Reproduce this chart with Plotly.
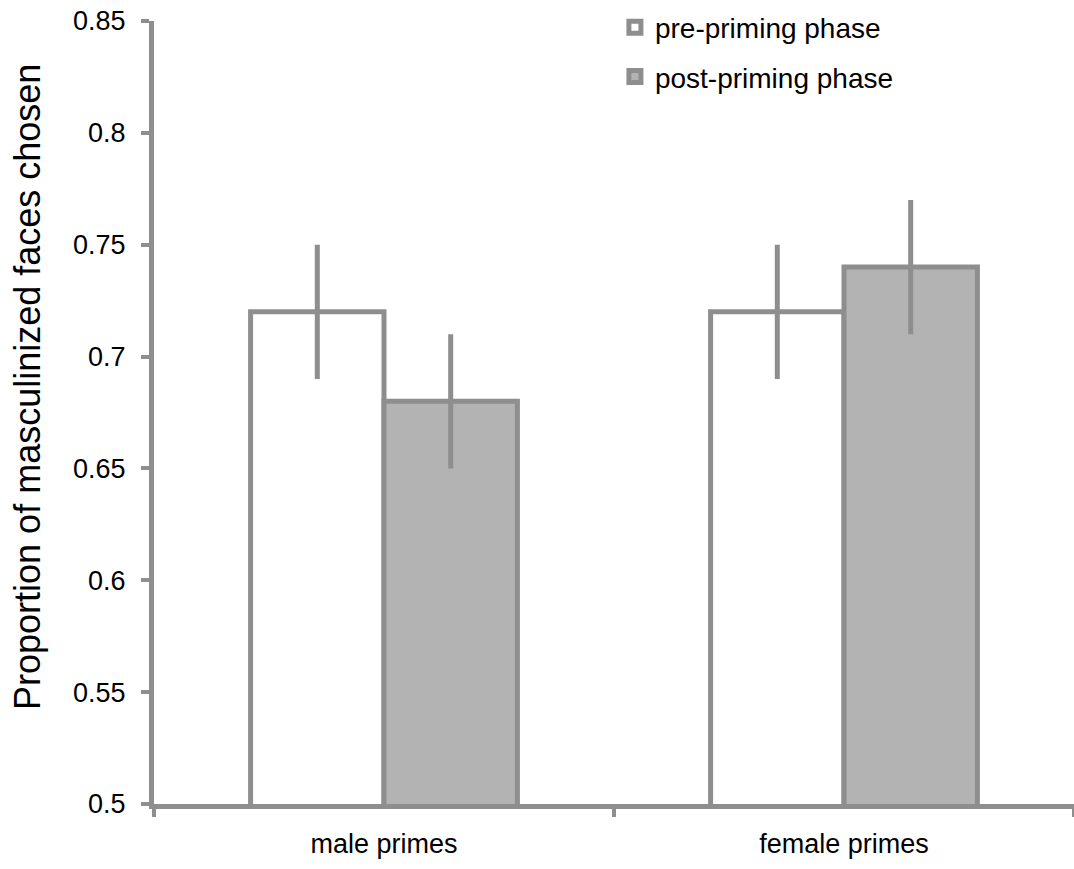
import plotly.graph_objects as go

categories = ["male primes", "female primes"]
pre_values = [0.72, 0.72]
post_values = [0.68, 0.74]
pre_err = [0.03, 0.03]
post_err = [0.03, 0.03]
y_ticks = [0.5, 0.55, 0.6, 0.65, 0.7, 0.75, 0.8, 0.85]
y_ticklabels = ["0.5", "0.55", "0.6", "0.65", "0.7", "0.75", "0.8", "0.85"]
y_title = "Proportion of masculinized faces chosen"

LINE = "#8e8e8e"
FONT = "Arial, Liberation Sans, sans-serif"

fig = go.Figure()
fig.add_trace(go.Bar(
    x=categories, y=pre_values, name="pre-priming phase",
    marker=dict(color="white", line=dict(color=LINE, width=5)),
    error_y=dict(type="data", array=pre_err, color=LINE, thickness=5, width=0),
    legendgroup="a",
))
fig.add_trace(go.Bar(
    x=categories, y=post_values, name="post-priming phase",
    marker=dict(color="#b3b3b3", line=dict(color=LINE, width=5)),
    error_y=dict(type="data", array=post_err, color=LINE, thickness=5, width=0),
    legendgroup="b",
))

fig.update_layout(
    width=1074, height=869,
    margin=dict(l=154, r=0, t=21, b=65),
    paper_bgcolor="white", plot_bgcolor="white",
    barmode="group", bargap=0.42, bargroupgap=0,
    font=dict(family=FONT, size=28, color="black"),
    legend=dict(x=0.501, y=1.0236, xanchor="left", yanchor="top",
                font=dict(size=28), tracegroupgap=10, traceorder="grouped",
                itemwidth=30, bgcolor="rgba(0,0,0,0)"),
    showlegend=True,
    annotations=[dict(
        text=y_title, textangle=-90, xref="paper", yref="paper",
        x=0, y=0.5326, xanchor="center", yanchor="middle", xshift=-126,
        showarrow=False, font=dict(size=36),
    )],
)
fig.update_yaxes(
    range=[0.5, 0.85], tickvals=y_ticks, ticktext=y_ticklabels,
    showgrid=False, zeroline=False, showline=True, linecolor=LINE, linewidth=5,
    ticks="outside", ticklen=8, tickwidth=4, tickcolor=LINE,
    tickfont=dict(size=27), ticklabelstandoff=10,
)
fig.update_xaxes(
    showgrid=False, showline=True, linecolor=LINE, linewidth=5,
    ticks="outside", ticklen=8, tickwidth=4, tickcolor=LINE,
    tickson="boundaries", tickfont=dict(size=27), ticklabelstandoff=12,
)

fig.write_html(
    "out.html",
    config={"displayModeBar": False},
    post_script="document.body.style.margin='0';document.body.style.overflow='hidden';",
)
